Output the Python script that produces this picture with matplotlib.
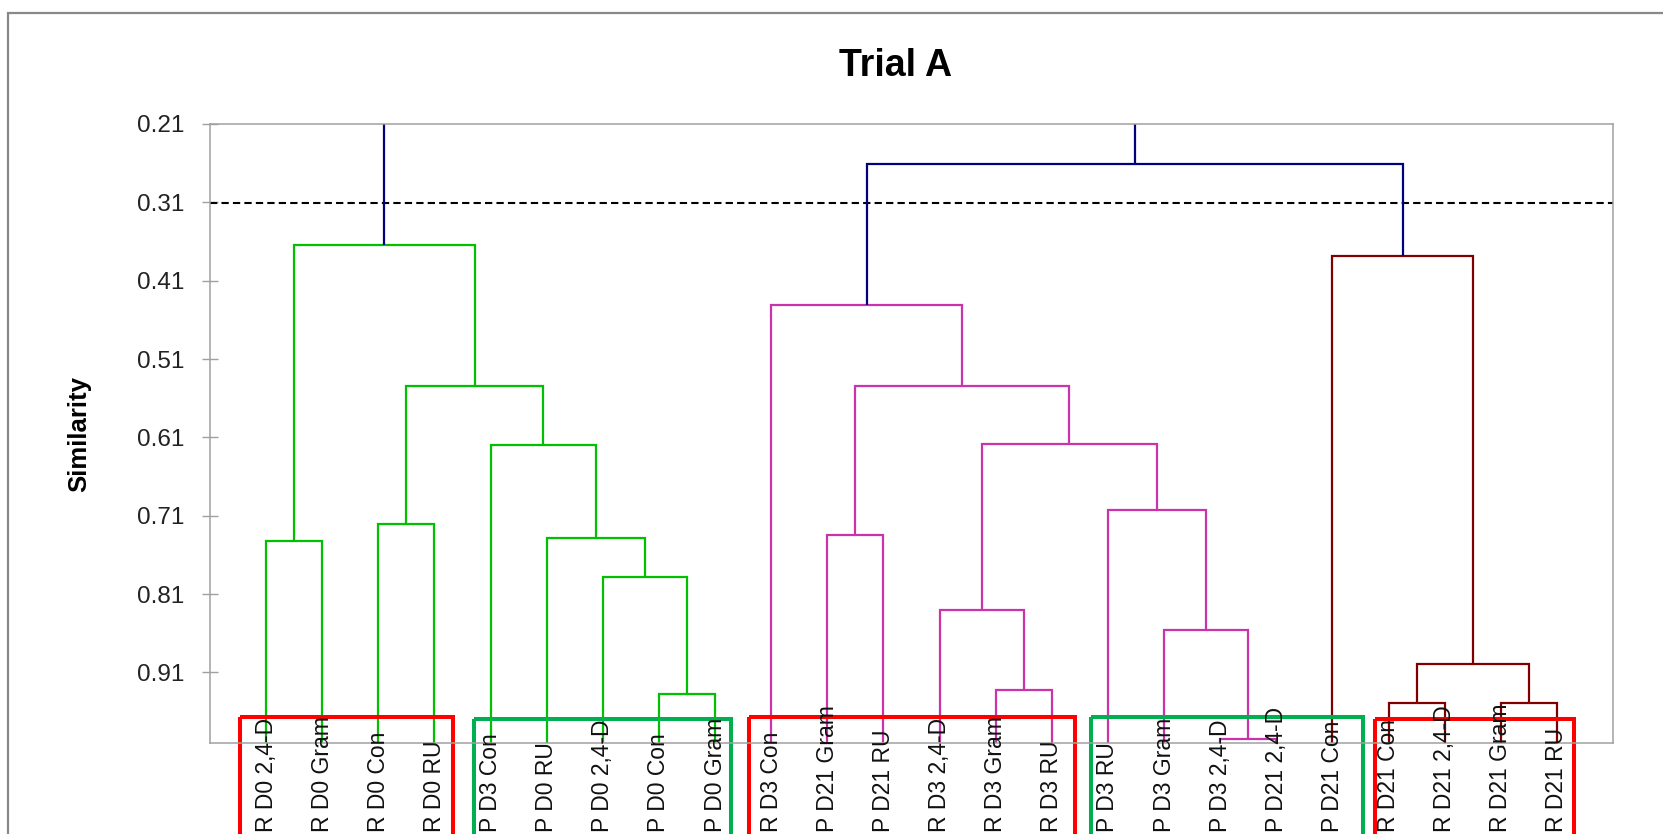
import matplotlib
matplotlib.use("Agg")
import matplotlib.pyplot as plt
from matplotlib.patches import Rectangle
from matplotlib.transforms import blended_transform_factory

plt.rcParams['font.family'] = ['Liberation Sans', 'DejaVu Sans']

# ---------------- data ----------------
title = "Trial A"
ylabel = "Similarity"

leaf_labels = [
    "R D0 2,4-D", "R D0 Gram", "R D0 Con", "R D0 RU",
    "P D3 Con", "P D0 RU", "P D0 2,4-D", "P D0 Con", "P D0 Gram",
    "R D3 Con", "P D21 Gram", "P D21 RU", "R D3 2,4-D", "R D3 Gram", "R D3 RU",
    "P D3 RU", "P D3 Gram", "P D3 2,4-D", "P D21 2,4-D", "P D21 Con",
    "R D21 Con", "R D21 2,4-D", "R D21 Gram", "R D21 RU",
]

# merges: (child_a, child_b) -- leaves are 0..23, merge k is node 24+k
merge_left = [7, 6, 5, 4, 0, 2, 29, 28,
              10, 13, 12, 17, 16, 15, 34, 32, 9,
              20, 22, 41, 19,
              40, 31]
merge_right = [8, 24, 25, 26, 1, 3, 27, 30,
               11, 14, 33, 18, 35, 36, 37, 38, 39,
               21, 23, 42, 43,
               44, 45]
merge_height = [0.938, 0.788, 0.739, 0.620, 0.742, 0.720, 0.544, 0.364,
                0.734, 0.932, 0.830, 0.995, 0.856, 0.703, 0.618, 0.544, 0.4415,
                0.949, 0.949, 0.899, 0.378,
                0.261, 0.19]
merge_cluster = ["g", "g", "g", "g", "g", "g", "g", "g",
                 "m", "m", "m", "m", "m", "m", "m", "m", "m",
                 "b", "b", "b", "b",
                 "n", "n"]
cluster_colors = {"g": "#00C000", "m": "#CC33AA", "b": "#800000", "n": "#000080"}

cut_level = 0.311
yticks = [0.21, 0.31, 0.41, 0.51, 0.61, 0.71, 0.81, 0.91]

# label group boxes: (x_left, x_right, top, color) in leaf-position units
box_left = [0.54, 4.70, 9.60, 15.70, 20.76]
box_right = [4.33, 9.28, 15.42, 20.55, 24.30]
box_top = [0.967, 0.970, 0.967, 0.967, 0.970]
box_colors = ["#FF0000", "#00B050", "#FF0000", "#00B050", "#FF0000"]

# ---------------- figure ----------------
W, H = 1663, 834
fig = plt.figure(figsize=(W / 100, H / 100), dpi=100)
ax = fig.add_axes([210 / W, 1 - 743 / H, (1613 - 210) / W, (743 - 124) / H])

n = len(leaf_labels)
node_x = [i + 1 for i in range(n)]
node_h = [1.0] * n
for a, b, h, c in zip(merge_left, merge_right, merge_height, merge_cluster):
    col = cluster_colors[c]
    xa, xb = node_x[a], node_x[b]
    ax.plot([xa, xa, xb, xb], [node_h[a], h, h, node_h[b]], color=col,
            lw=1.6, solid_capstyle='butt', solid_joinstyle='miter', zorder=3)
    node_x.append((xa + xb) / 2)
    node_h.append(h)

ax.axhline(cut_level, color="black", lw=1.5, linestyle=(0, (3.5, 2)), zorder=2)

ax.set_xlim(0, n + 1)
ax.set_ylim(1.0, 0.21)
ax.set_xticks([])
ax.set_yticks(yticks)
ax.set_yticklabels([f"{v:.2f}" for v in yticks], fontsize=17.5, color="#222222")
ax.tick_params(axis='y', direction='inout', length=11, width=1, color="#A0A0A0", pad=13)
for s in ax.spines.values():
    s.set_color("#A0A0A0")
    s.set_linewidth(1.1)
    s.set_zorder(4)

ax.set_ylabel(ylabel, fontsize=18.5, fontweight='bold')
ax.yaxis.set_label_coords((91 - 210) / (1613 - 210), 0.5)

# leaf labels (bottom-anchored near figure bottom)
tr = blended_transform_factory(ax.transData, fig.transFigure)
for i, lab in enumerate(leaf_labels):
    ax.text(i + 1, 2 / H, lab, transform=tr, rotation=90, ha='center', va='bottom',
            fontsize=16.5, color="#111111", clip_on=False, zorder=5)

# group boxes
for x0, x1, top, col in zip(box_left, box_right, box_top, box_colors):
    ax.add_patch(Rectangle((x0, top), x1 - x0, 0.3, fill=False, edgecolor=col,
                           lw=2.9, clip_on=False, zorder=4))

fig.text(896 / W, 1 - 66 / H, title, fontsize=27, fontweight='bold', ha='center', va='center')

# outer chart border
fig.add_artist(Rectangle((8 / W, -0.2), 1.2, 1 - 13 / H + 0.2, transform=fig.transFigure,
                         fill=False, edgecolor="#888888", lw=1.6))

fig.savefig("out.png", dpi=100)
